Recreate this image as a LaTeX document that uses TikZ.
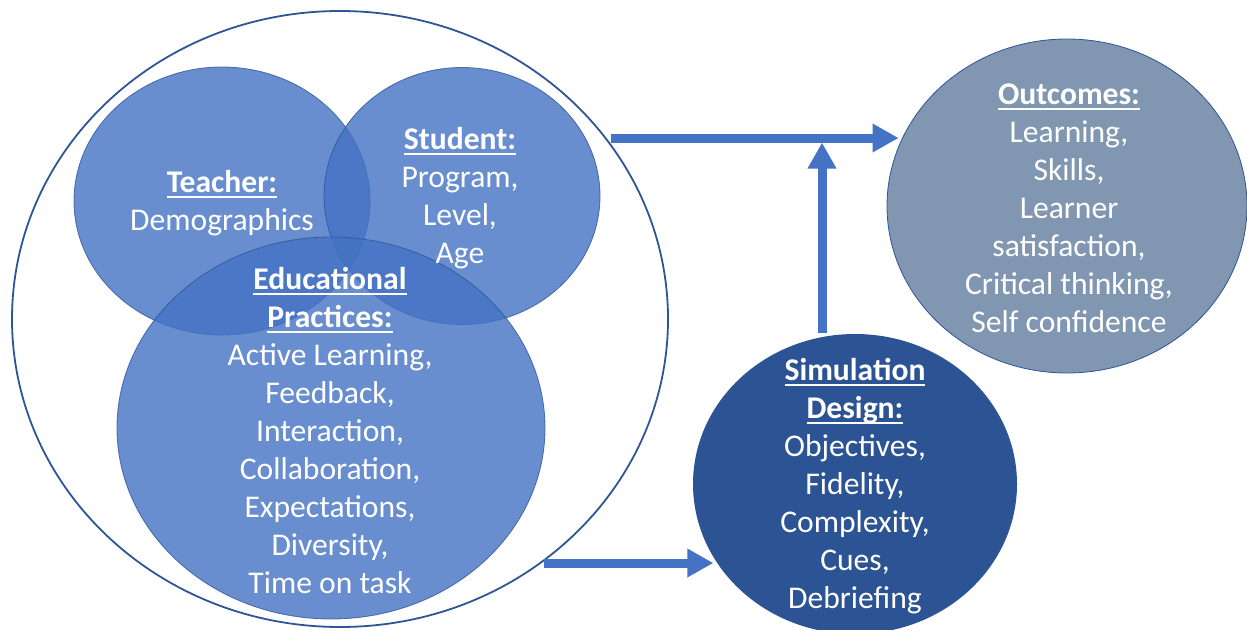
\documentclass[tikz,border=0pt]{standalone}
\usepackage{fontspec}
\setmainfont{Carlito}
\usetikzlibrary{arrows.meta,shapes.geometric}
\definecolor{ring}{RGB}{47,85,151}
\definecolor{venn}{RGB}{68,114,196}
\definecolor{outc}{RGB}{128,150,177}
\definecolor{simc}{RGB}{44,83,147}
\definecolor{arrc}{RGB}{68,114,196}
\newcommand\hdr[1]{\setbox0\hbox{\bfseries #1}\leavevmode\rlap{\rule[-5.5pt]{\wd0}{1.8pt}}\box0}
\begin{document}
\begin{tikzpicture}[x=1pt,y=-1pt,
  outerring/.style={ellipse, draw=ring, line width=1.8pt, inner sep=0pt},
  vennset/.style={ellipse, draw=ring, line width=0.8pt, fill=venn, opacity=0.8, inner sep=0pt},
  lbl/.style={text=white, align=center, inner sep=0pt, font=\fontsize{31.6}{38}\selectfont},
  arr/.style={draw=arrc, line width=9pt, -{Triangle[length=26pt,width=27pt]}}]
\useasboundingbox (0,0) rectangle (1247,629);
\fill[white] (0,0) rectangle (1247,629);
% sets
\node[outerring, minimum width=656pt, minimum height=616pt] (outer) at (340,319) {};
\node[vennset, minimum width=296pt, minimum height=268pt] (teacher) at (222,201) {};
\node[vennset, minimum width=276pt, minimum height=257pt] (student) at (462,196) {};
\node[vennset, minimum width=428pt, minimum height=382pt] (edu) at (331,428) {};
\node[ellipse, draw=ring, line width=0.8pt, fill=outc, inner sep=0pt, minimum width=360pt, minimum height=334pt] (outc) at (1067,206) {};
\node[ellipse, fill=simc, inner sep=0pt, minimum width=324pt, minimum height=300pt] (sim) at (855,484) {};
% labels
\node[lbl] (teachertxt) at (222,203) {\hdr{Teacher:}\\Demographics};
\node[lbl] (studenttxt) at (460,198) {\hdr{Student:}\\Program,\\Level,\\Age};
\node[lbl] (edutxt) at (330,430) {\hdr{Educational}\\\hdr{Practices:}\\Active Learning,\\Feedback,\\Interaction,\\Collaboration,\\Expectations,\\Diversity,\\Time on task};
\node[lbl] (outctxt) at (1069,208) {\hdr{Outcomes:}\\Learning,\\Skills,\\Learner\\satisfaction,\\Critical thinking,\\Self confidence};
\node[lbl] (simtxt) at (855,486) {\hdr{Simulation}\\\hdr{Design:}\\Objectives,\\Fidelity,\\Complexity,\\Cues,\\Debriefing};
% connectors
\coordinate (a1) at (611,138);
\draw[arr, shorten >=3pt] (a1) -- (a1 -| outc.158);
\coordinate (v0) at (822,333);
\draw[arr, shorten >=4.5pt] (v0) -- (v0 |- a1);
\coordinate (b1) at (544,563);
\draw[arr, shorten >=4pt] (b1) -- (b1 -| sim.210);
\end{tikzpicture}
\end{document}
